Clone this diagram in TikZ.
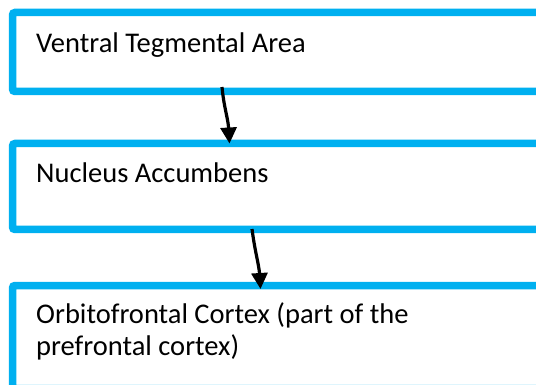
\documentclass[tikz,border=0pt]{standalone}
\usepackage{fontspec}
\setmainfont{Carlito}
\usetikzlibrary{arrows.meta}
\definecolor{boxblue}{HTML}{00B0F0}
\tikzset{
  stagebox/.style={draw=boxblue, line width=7.5pt, rounded corners=2.5pt, fill=white},
  stagetext/.style={anchor=base west, inner sep=0pt, font=\fontsize{28.5}{32}\selectfont, align=left},
  flow/.style={line width=3.2pt, draw=black, -{Triangle[length=16pt,width=16pt]}}
}
\begin{document}
\begin{tikzpicture}[x=1pt,y=-1pt]
\useasboundingbox (0,0) rectangle (536,385);
\begin{scope}
\clip (0,0) rectangle (536,385);
\draw[stagebox] (12.5,12.5) rectangle (580,91.5);
\draw[stagebox] (12.5,143.5) rectangle (580,229.5);
\draw[stagebox] (12.5,285.5) rectangle (580,388.5);
\end{scope}
\coordinate (b1) at (222,87);
\coordinate (b2top) at (229.5,143.5);
\coordinate (b2) at (252,229);
\coordinate (b3top) at (260.5,289);
\node[stagetext] (vta) at (36,53) {Ventral Tegmental Area};
\node[stagetext] (nac) at (36,183) {Nucleus Accumbens};
\node[stagetext] (ofc) at (36,355) {Orbitofrontal Cortex (part of the\\prefrontal cortex)};
\draw[flow] (b1) .. controls (224,108) and (228,118) .. (b2top);
\draw[flow] (b2) .. controls (255,252) and (259,265) .. (b3top);
\end{tikzpicture}
\end{document}
